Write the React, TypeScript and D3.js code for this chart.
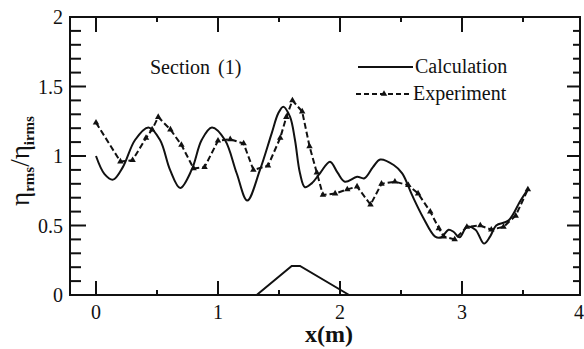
import React from "react";
import * as d3 from "d3";

const calcX = [0, 0.07, 0.14, 0.22, 0.32, 0.43, 0.525, 0.607, 0.69, 0.784, 0.866, 0.95, 1.057, 1.153, 1.24, 1.344, 1.44, 1.494, 1.535, 1.59, 1.631, 1.672, 1.713, 1.768, 1.836, 1.918, 1.98, 2.04, 2.14, 2.2, 2.27, 2.33, 2.44, 2.51, 2.59, 2.68, 2.78, 2.83, 2.89, 2.93, 2.98, 3.04, 3.11, 3.18, 3.23, 3.28, 3.38, 3.48, 3.54];
const calcY = [1.0, 0.87, 0.83, 0.92, 1.115, 1.205, 1.115, 0.9, 0.77, 0.9, 1.115, 1.205, 1.115, 0.876, 0.68, 0.9, 1.163, 1.307, 1.355, 1.283, 1.115, 0.876, 0.775, 0.803, 0.876, 0.959, 0.88, 0.815, 0.85, 0.84, 0.92, 0.975, 0.935, 0.875, 0.72, 0.56, 0.42, 0.415, 0.47, 0.455, 0.415, 0.49, 0.47, 0.37, 0.42, 0.5, 0.535, 0.68, 0.76];

const expX = [0.0, 0.2, 0.3, 0.41, 0.46, 0.51, 0.61, 0.7, 0.8, 0.89, 1.0, 1.1, 1.21, 1.29, 1.41, 1.51, 1.56, 1.61, 1.69, 1.75, 1.81, 1.86, 1.96, 2.06, 2.14, 2.25, 2.34, 2.45, 2.56, 2.64, 2.74, 2.81, 2.85, 2.94, 3.04, 3.15, 3.24, 3.34, 3.44, 3.54];
const expY = [1.24, 0.96, 0.97, 1.13, 1.19, 1.28, 1.19, 1.08, 0.91, 0.92, 1.11, 1.12, 1.09, 0.9, 0.93, 1.13, 1.28, 1.4, 1.32, 1.07, 0.88, 0.72, 0.73, 0.76, 0.78, 0.65, 0.8, 0.815, 0.79, 0.73, 0.6, 0.48, 0.42, 0.4, 0.49, 0.5, 0.47, 0.49, 0.57, 0.76];

const bedX = [1.317, 1.604, 1.672, 2.075];
const bedY = [0, 0.209, 0.209, 0];

const xTickLabels = ["0", "1", "2", "3", "4"];
const yTickLabels = ["0", "0.5", "1", "1.5", "2"];

const W = 584, H = 349;
const FL = 70, FR = 580, FT = 17, FB = 295;
const FONT = "'Liberation Serif', 'Times New Roman', serif";

export default function App() {
  const x = d3.scaleLinear().domain([0, 4]).range([96, 584]);
  const y = d3.scaleLinear().domain([0, 2]).range([FB, FT]);

  const calc = calcX.map((v, i) => [v, calcY[i]] as [number, number]);
  const exp = expX.map((v, i) => [v, expY[i]] as [number, number]);
  const bed = bedX.map((v, i) => [v, bedY[i]] as [number, number]);

  const smooth = d3.line<[number, number]>().x(d => x(d[0])).y(d => y(d[1])).curve(d3.curveCatmullRom.alpha(0.5));
  const straight = d3.line<[number, number]>().x(d => x(d[0])).y(d => y(d[1]));

  const tri = d3.symbol().type(d3.symbolTriangle).size(18)();

  const yMinor = d3.range(0, 21).map(i => i / 10);
  const xMajor = [0, 1, 2, 3];
  const xMinor = [0.5, 1.5, 2.5, 3.5];

  return (
    <svg width={W} height={H} style={{ display: "block", position: "absolute", left: 0, top: 0 }}>
      <rect width={W} height={H} fill="#fff" />
      <g stroke="#111" strokeWidth={2} fill="none">
        <rect x={FL} y={FT} width={FR - FL} height={FB - FT} />
        {yMinor.map((v, i) => {
          const major = i % 5 === 0;
          return (
            <g key={"yt" + i}>
              <line x1={FL} x2={FL + (major ? 16 : 11)} y1={y(v)} y2={y(v)} />
              <line x1={FR} x2={FR - (major ? 13 : 7)} y1={y(v)} y2={y(v)} />
            </g>
          );
        })}
        {xMajor.map(v => (
          <g key={"xM" + v}>
            <line x1={x(v)} x2={x(v)} y1={FB} y2={FB - 14} />
            <line x1={x(v)} x2={x(v)} y1={FT} y2={FT + 15} />
          </g>
        ))}
        {xMinor.map(v => (
          <g key={"xm" + v}>
            <line x1={x(v)} x2={x(v)} y1={FB} y2={FB - 5} />
            <line x1={x(v)} x2={x(v)} y1={FT} y2={FT + 5} />
          </g>
        ))}
      </g>

      <g fontFamily={FONT} fontSize={20} fill="#111">
        {xTickLabels.map((t, i) => (
          <text key={"xl" + i} x={i === 4 ? 584 : x(i)} y={319} textAnchor={i === 4 ? "end" : "middle"}>{t}</text>
        ))}
        {yTickLabels.map((t, i) => (
          <text key={"yl" + i} x={63} y={y(i * 0.5) + 7} textAnchor="end">{t}</text>
        ))}
      </g>

      <path d={straight(bed) || ""} fill="none" stroke="#111" strokeWidth={2} />
      <path d={smooth(calc) || ""} fill="none" stroke="#111" strokeWidth={2} />
      <path d={straight(exp) || ""} fill="none" stroke="#111" strokeWidth={2} strokeDasharray="6,3" />
      {exp.map((d, i) => (
        <path key={"m" + i} d={tri || ""} transform={`translate(${x(d[0])},${y(d[1])})`} fill="#111" />
      ))}

      <text x={150} y={74} fontFamily={FONT} fontSize={20} fill="#111">Section</text>
      <text x={218} y={74} fontFamily={FONT} fontSize={20} fill="#111">(1)</text>

      <line x1={358} x2={413} y1={67} y2={67} stroke="#111" strokeWidth={2} />
      <text x={415} y={73} fontFamily={FONT} fontSize={20} fill="#111">Calculation</text>
      <line x1={356} x2={412} y1={94} y2={94} stroke="#111" strokeWidth={2} strokeDasharray="5,3" />
      <path d={tri || ""} transform="translate(384,94)" fill="#111" />
      <text x={413} y={100} fontFamily={FONT} fontSize={20} fill="#111">Experiment</text>

      <text x={329} y={342} textAnchor="middle" fontFamily={FONT} fontSize={24} fontWeight="bold" fill="#111">x(m)</text>

      <text transform="translate(29,161) rotate(-90)" textAnchor="middle" fontFamily={FONT} fontSize={27} fill="#111">
        η<tspan fontSize={15} fontWeight="bold" dy={5}>rms</tspan>
        <tspan dy={-5}>/η</tspan>
        <tspan fontSize={15} fontWeight="bold" dy={5}>irms</tspan>
      </text>
    </svg>
  );
}
